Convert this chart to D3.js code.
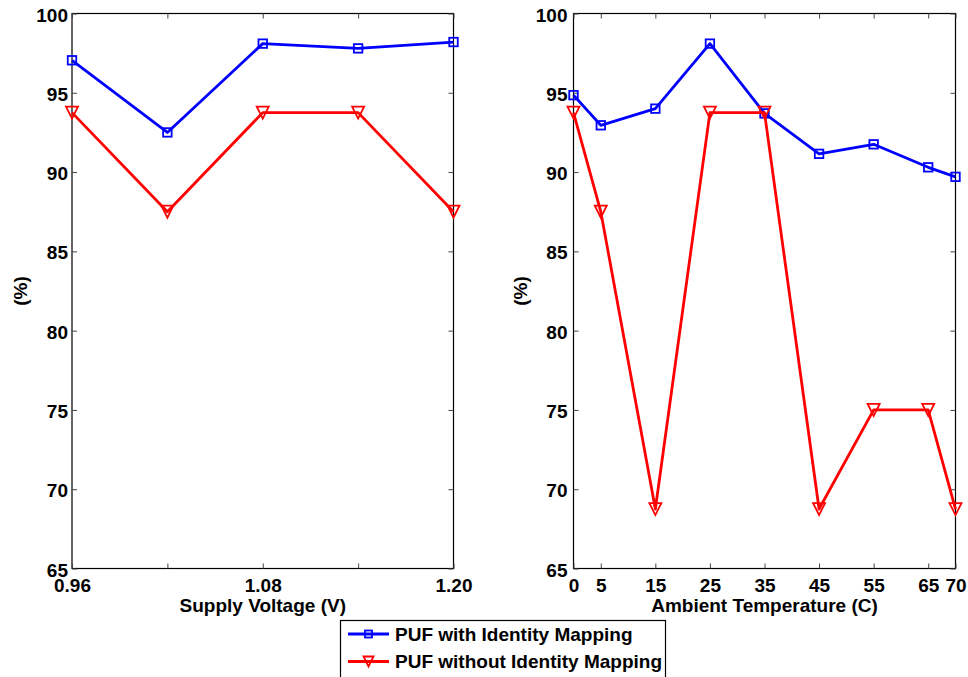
<!DOCTYPE html>
<html>
<head>
<meta charset="utf-8">
<script src="https://cdn.jsdelivr.net/npm/d3@7"></script>
<style>
  html, body { margin: 0; padding: 0; background: #fff; }
  svg { display: block; }
  text { font-family: "Liberation Sans", Arial, sans-serif; font-weight: bold; fill: #000; }
</style>
</head>
<body>
<svg id="chart" width="968" height="677"></svg>
<script>
// Supply-voltage sweep
const voltages = [0.96, 1.02, 1.08, 1.14, 1.20];
const voltageTickLabels = ["0.96", "1.08", "1.20"];
const voltageWith = [97.05, 92.5, 98.1, 97.8, 98.2];
const voltageWithout = [93.75, 87.5, 93.75, 93.75, 87.5];

// Ambient-temperature sweep
const temperatures = [0, 5, 15, 25, 35, 45, 55, 65, 70];
const temperatureWith = [94.85, 92.95, 94.0, 98.1, 93.7, 91.15, 91.75, 90.3, 89.7];
const temperatureWithout = [93.75, 87.5, 68.75, 93.75, 93.75, 68.75, 75, 75, 68.75];

const yTicks = [65, 70, 75, 80, 85, 90, 95, 100];
const seriesNames = ["PUF with Identity Mapping", "PUF without Identity Mapping"];
const seriesColors = ["#0000ff", "#ff0000"];

const FONT = 19;
const svg = d3.select("#chart");
const plotTop = 13.5, plotBottom = 568.5;

const y = d3.scaleLinear().domain([65, 100]).range([plotBottom, plotTop]);

function squareMarker(g, cx, cy, color, s) {
  g.append("rect")
    .attr("x", cx - s / 2).attr("y", cy - s / 2)
    .attr("width", s).attr("height", s)
    .attr("fill", "none").attr("stroke", color).attr("stroke-width", 1.8);
}
function triangleMarker(g, cx, cy, color, h) {
  g.append("path")
    .attr("d", `M${cx - h},${cy - h}L${cx + h},${cy - h}L${cx},${cy + h}Z`)
    .attr("fill", "none").attr("stroke", color).attr("stroke-width", 1.8)
    .attr("stroke-linejoin", "miter");
}

function panel(opts) {
  const x = d3.scaleLinear().domain(opts.domain).range([opts.left, opts.right]);
  const g = svg.append("g");

  // frame
  g.append("rect")
    .attr("x", opts.left).attr("y", plotTop)
    .attr("width", opts.right - opts.left).attr("height", plotBottom - plotTop)
    .attr("fill", "none").attr("stroke", "#000").attr("stroke-width", 1.2);

  // y ticks (inward, mirrored on the right side)
  const yAxisL = d3.axisLeft(y).tickValues(yTicks).tickSize(-5).tickPadding(opts.yPad).tickFormat(d3.format("d"));
  const yl = g.append("g").attr("transform", `translate(${opts.left},0)`).call(yAxisL);
  const yAxisR = d3.axisRight(y).tickValues(yTicks).tickSize(-5).tickFormat("");
  const yr = g.append("g").attr("transform", `translate(${opts.right},0)`).call(yAxisR);

  // x ticks (inward, mirrored on top)
  const xAxisB = d3.axisBottom(x).tickValues(opts.ticks).tickSize(-5)
    .tickFormat(opts.tickFormat);
  const xb = g.append("g").attr("transform", `translate(0,${plotBottom})`).call(xAxisB);
  const xAxisT = d3.axisTop(x).tickValues(opts.ticks).tickSize(-5).tickFormat("");
  const xt = g.append("g").attr("transform", `translate(0,${plotTop})`).call(xAxisT);

  [yl, yr, xb, xt].forEach(a => {
    a.select(".domain").remove();
    a.selectAll(".tick line").attr("stroke", "#444").attr("stroke-width", 1);
    a.selectAll("text").attr("font-size", FONT).attr("font-weight", "bold")
      .attr("font-family", "'Liberation Sans', Arial, sans-serif").attr("fill", "#000");
  });
  yl.selectAll(".tick text").attr("dy", "0.4em");
  xb.selectAll(".tick text").attr("y", 23.5).attr("dy", 0);

  // axis titles
  g.append("text")
    .attr("x", (opts.left + opts.right) / 2).attr("y", 612)
    .attr("text-anchor", "middle").attr("font-size", FONT)
    .text(opts.xTitle);
  g.append("text")
    .attr("transform", `translate(${opts.yTitleX},${(plotTop + plotBottom) / 2}) rotate(-90)`)
    .attr("text-anchor", "middle").attr("font-size", FONT)
    .text("(%)");

  // series
  const line = d3.line().x(d => x(d[0])).y(d => y(d[1]));
  opts.series.forEach((vals, i) => {
    const pts = opts.xs.map((v, j) => [v, vals[j]]);
    g.append("path").datum(pts)
      .attr("d", line).attr("fill", "none")
      .attr("stroke", seriesColors[i]).attr("stroke-width", 2.8)
      .attr("stroke-linejoin", "round");
    pts.forEach(p => {
      if (i === 0) squareMarker(g, x(p[0]), y(p[1]), seriesColors[i], 8.5);
      else triangleMarker(g, x(p[0]), y(p[1]), seriesColors[i], 6);
    });
  });
}

panel({
  left: 72, right: 453.5,
  domain: [0.96, 1.20],
  xs: voltages,
  ticks: voltages,
  tickFormat: d => { const s = d.toFixed(2); return voltageTickLabels.includes(s) ? s : ""; },
  series: [voltageWith, voltageWithout],
  xTitle: "Supply Voltage (V)",
  yTitleX: 27,
  yPad: 4
});

panel({
  left: 573.5, right: 955.5,
  domain: [0, 70],
  xs: temperatures,
  ticks: temperatures,
  tickFormat: d3.format("d"),
  series: [temperatureWith, temperatureWithout],
  xTitle: "Ambient Temperature (C)",
  yTitleX: 527,
  yPad: 6
});

// legend
const legend = svg.append("g");
legend.append("rect")
  .attr("x", 340.5).attr("y", 620.5).attr("width", 325).attr("height", 70)
  .attr("fill", "#fff").attr("stroke", "#000").attr("stroke-width", 1.2);
seriesNames.forEach((name, i) => {
  const cy = 634 + i * 27.5;
  legend.append("line")
    .attr("x1", 348).attr("x2", 389).attr("y1", cy).attr("y2", cy)
    .attr("stroke", seriesColors[i]).attr("stroke-width", 2.8);
  if (i === 0) {
    squareMarker(legend, 368.5, cy, seriesColors[i], 7);
  } else {
    triangleMarker(legend, 368.5, cy, seriesColors[i], 5);
  }
  legend.append("text")
    .attr("x", 395).attr("y", cy).attr("dy", "0.36em")
    .attr("font-size", FONT)
    .text(name);
});
</script>
</body>
</html>
